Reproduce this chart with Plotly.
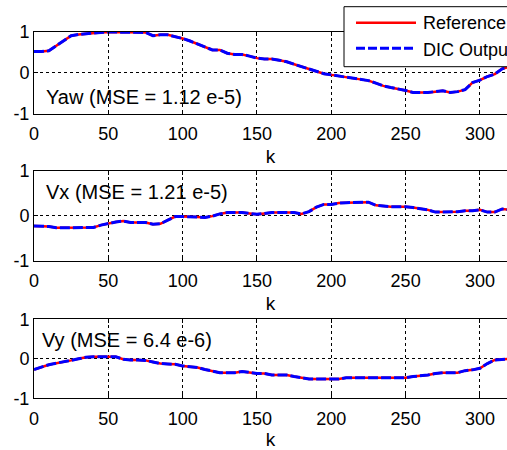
import plotly.graph_objects as go

# ---------------- data ----------------
k = list(range(0, 325, 5))

yaw_ref = [0.52, 0.52, 0.54, 0.66, 0.78, 0.91, 0.94, 0.96, 0.98, 0.99,
           1.00, 1.00, 1.00, 1.00, 1.00, 0.99, 0.91, 0.93, 0.93, 0.89,
           0.84, 0.78, 0.70, 0.62, 0.56, 0.56, 0.48, 0.45, 0.45, 0.41,
           0.36, 0.34, 0.34, 0.31, 0.27, 0.21, 0.15, 0.09, 0.03, -0.02,
           -0.05, -0.08, -0.10, -0.13, -0.16, -0.19, -0.25, -0.32, -0.36, -0.39,
           -0.43, -0.48, -0.48, -0.48, -0.46, -0.44, -0.48, -0.46, -0.41, -0.24,
           -0.18, -0.09, -0.03, 0.10, 0.15]
yaw_dic = list(yaw_ref)

vx_ref = [-0.23, -0.23, -0.24, -0.27, -0.27, -0.27, -0.27, -0.27, -0.26, -0.21,
          -0.17, -0.14, -0.12, -0.15, -0.15, -0.15, -0.19, -0.18, -0.10, -0.02,
          -0.02, -0.02, -0.03, -0.04, -0.01, 0.04, 0.07, 0.07, 0.07, 0.05,
          0.03, 0.05, 0.07, 0.07, 0.07, 0.07, 0.04, 0.09, 0.19, 0.25,
          0.25, 0.28, 0.29, 0.29, 0.29, 0.30, 0.23, 0.21, 0.20, 0.20,
          0.20, 0.18, 0.16, 0.13, 0.08, 0.08, 0.08, 0.09, 0.11, 0.11,
          0.13, 0.08, 0.08, 0.15, 0.13]
vx_dic = list(vx_ref)

vy_ref = [-0.27, -0.20, -0.15, -0.11, -0.08, -0.04, 0.00, 0.04, 0.05, 0.05,
          0.05, 0.05, -0.01, -0.03, -0.03, -0.04, -0.08, -0.12, -0.13, -0.14,
          -0.18, -0.20, -0.22, -0.27, -0.31, -0.35, -0.35, -0.35, -0.32, -0.35,
          -0.37, -0.37, -0.41, -0.41, -0.41, -0.45, -0.48, -0.51, -0.51, -0.51,
          -0.51, -0.51, -0.48, -0.48, -0.48, -0.48, -0.48, -0.48, -0.48, -0.48,
          -0.48, -0.45, -0.43, -0.41, -0.37, -0.35, -0.35, -0.35, -0.30, -0.28,
          -0.24, -0.12, -0.03, -0.02, 0.00]
vy_dic = list(vy_ref)

panel_labels = ["Yaw (MSE = 1.12 e-5)", "Vx (MSE = 1.21 e-5)", "Vy (MSE = 6.4 e-6)"]
x_ticks = [0, 50, 100, 150, 200, 250, 300]
y_ticks = [-1, 0, 1]
legend_names = ["Reference", "DIC Output"]

# ---------------- layout helpers ----------------
W, H = 507, 450
def px(x):
    return x / W
def py(y):
    return 1 - y / H

FONT = "Liberation Sans, Arial, sans-serif"
x_dom = [px(34), 1.0]
y_doms = [[py(113.7), py(32)], [py(260.7), py(170.7)], [py(398.3), py(319.3)]]
label_pos = [(44, 97), (44, 192), (40, 340)]

fig = go.Figure()
series = [(yaw_ref, yaw_dic), (vx_ref, vx_dic), (vy_ref, vy_dic)]
for i, (ref, dic) in enumerate(series):
    xa = "x" if i == 0 else f"x{i+1}"
    ya = "y" if i == 0 else f"y{i+1}"
    fig.add_trace(go.Scatter(x=k, y=ref, mode="lines", name=legend_names[0],
                             line=dict(color="#ff0000", width=2.5),
                             xaxis=xa, yaxis=ya, showlegend=False))
    fig.add_trace(go.Scatter(x=k, y=dic, mode="lines", name=legend_names[1],
                             line=dict(color="#0000ff", width=3, dash="10px,3px"),
                             xaxis=xa, yaxis=ya, showlegend=False))

axis_common = dict(showline=True, linecolor="black", linewidth=1,
                   ticks="inside", ticklen=4, tickcolor="black",
                   showgrid=True, gridcolor="black", gridwidth=1, griddash="3px,3px",
                   zeroline=False, automargin=False,
                   tickfont=dict(family=FONT, size=18, color="black"))

for i in range(3):
    xkey = "xaxis" if i == 0 else f"xaxis{i+1}"
    ykey = "yaxis" if i == 0 else f"yaxis{i+1}"
    ya = "y" if i == 0 else f"y{i+1}"
    xa = "x" if i == 0 else f"x{i+1}"
    fig.update_layout({
        xkey: dict(axis_common, domain=x_dom, anchor=ya, range=[0, 318.2],
                   tickvals=x_ticks, mirror="ticks", ticklabelstandoff=4,
                   title=dict(text="k", font=dict(family=FONT, size=19, color="black"),
                              standoff=6)),
        ykey: dict(axis_common, domain=y_doms[i], anchor=xa, range=[-1, 1],
                   tickvals=y_ticks, ticktext=[str(v) for v in y_ticks]),
    })
    lx, ly = label_pos[i]
    fig.add_annotation(x=px(lx), y=py(ly), xref="paper", yref="paper",
                       text=panel_labels[i], showarrow=False,
                       xanchor="left", yanchor="middle",
                       font=dict(family=FONT, size=20, color="black"))

# ---------------- legend (drawn manually, clipped by figure edge as in the source) ----------------
fig.add_shape(type="rect", xref="paper", yref="paper",
              x0=px(344), x1=px(560), y0=py(66.7), y1=py(6.7),
              line=dict(color="black", width=1), fillcolor="white", layer="above")
fig.add_shape(type="line", xref="paper", yref="paper",
              x0=px(356), x1=px(416), y0=py(22.7), y1=py(22.7),
              line=dict(color="#ff0000", width=2.5), layer="above")
fig.add_shape(type="line", xref="paper", yref="paper",
              x0=px(356), x1=px(416), y0=py(48.3), y1=py(48.3),
              line=dict(color="#0000ff", width=3, dash="9px,3px"), layer="above")
for name, yy in zip(legend_names, [23, 50]):
    fig.add_annotation(x=px(421), y=py(yy), xref="paper", yref="paper",
                       text=name, showarrow=False, xanchor="left", yanchor="middle",
                       font=dict(family=FONT, size=18, color="black"))

fig.update_layout(width=W, height=H, margin=dict(l=0, r=0, t=0, b=0),
                  paper_bgcolor="white", plot_bgcolor="white", showlegend=False)

fig.write_html("out.html")
